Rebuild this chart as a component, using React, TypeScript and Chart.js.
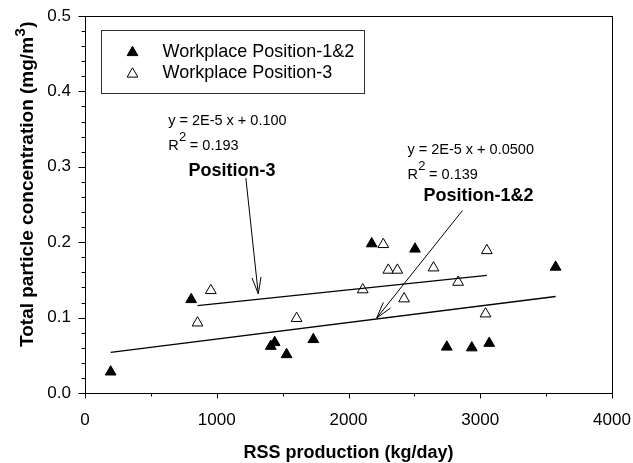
import React, { useEffect, useRef } from "react";
import { Chart, registerables } from "chart.js";

Chart.register(...registerables);

// ---- data ----
const xTickValues = [0, 1000, 2000, 3000, 4000];
const yTickValues = [0.0, 0.1, 0.2, 0.3, 0.4, 0.5];

const seriesNames = ["Workplace Position-1&2", "Workplace Position-3"];

const pos12X = [195, 806, 1410, 1440, 1530, 1733, 2176, 2505, 2746, 2936, 3068, 3572];
const pos12Y = [0.028, 0.124, 0.062, 0.067, 0.051, 0.071, 0.198, 0.191, 0.061, 0.06, 0.066, 0.167];

const pos3X = [854, 955, 1606, 2108, 2264, 2302, 2371, 2422, 2645, 2832, 3040, 3050];
const pos3Y = [0.093, 0.136, 0.099, 0.137, 0.197, 0.163, 0.163, 0.125, 0.166, 0.147, 0.105, 0.189];

const fit12X = [195, 3572];
const fit12Y = [0.054, 0.128];
const fit3X = [854, 3050];
const fit3Y = [0.116, 0.156];

const eq3 = ["y = 2E-5 x + 0.100", "= 0.193"];
const eq12 = ["y = 2E-5 x + 0.0500", "= 0.139"];
const labels = ["Position-3", "Position-1&2"];

const FONT = "'Liberation Sans', Arial, Helvetica, sans-serif";

function tri(ctx: CanvasRenderingContext2D, x: number, y: number, r: number, fill: string) {
  let rad = 0;
  ctx.beginPath();
  ctx.moveTo(x + Math.sin(rad) * r, y - Math.cos(rad) * r);
  rad += (2 * Math.PI) / 3;
  ctx.lineTo(x + Math.sin(rad) * r, y - Math.cos(rad) * r);
  rad += (2 * Math.PI) / 3;
  ctx.lineTo(x + Math.sin(rad) * r, y - Math.cos(rad) * r);
  ctx.closePath();
  ctx.fillStyle = fill;
  ctx.fill();
  ctx.lineWidth = 1;
  ctx.strokeStyle = "#000";
  ctx.stroke();
}

function arrow(ctx: CanvasRenderingContext2D, x1: number, y1: number, x2: number, y2: number) {
  ctx.beginPath();
  ctx.moveTo(x1, y1);
  ctx.lineTo(x2, y2);
  const ang = Math.atan2(y1 - y2, x1 - x2);
  const len = 17;
  const da = 0.27;
  ctx.moveTo(x2 + Math.cos(ang + da) * len, y2 + Math.sin(ang + da) * len);
  ctx.lineTo(x2, y2);
  ctx.lineTo(x2 + Math.cos(ang - da) * len, y2 + Math.sin(ang - da) * len);
  ctx.stroke();
}

function eqBlock(ctx: CanvasRenderingContext2D, x: number, y1: number, y2: number, lines: string[]) {
  ctx.textAlign = "left";
  ctx.textBaseline = "middle";
  ctx.font = `14.5px ${FONT}`;
  ctx.fillText(lines[0], x, y1);
  ctx.fillText("R", x, y2);
  const rw = ctx.measureText("R").width;
  ctx.font = `13px ${FONT}`;
  ctx.fillText("2", x + rw + 0.5, y2 - 8);
  const sw = ctx.measureText("2").width;
  ctx.font = `14.5px ${FONT}`;
  ctx.fillText(" " + lines[1], x + rw + sw, y2);
}

const overlay = {
  id: "overlay",
  afterDraw(chart: any) {
    const { ctx, chartArea: a, scales } = chart;
    const xs = scales.x;
    const ys = scales.y;
    const px = (v: number) => xs.getPixelForValue(v);
    const py = (v: number) => ys.getPixelForValue(v);
    ctx.save();
    ctx.strokeStyle = "#000";
    ctx.fillStyle = "#000";
    ctx.lineWidth = 1;
    const L = Math.round(a.left) + 0.5;
    const R = Math.round(a.right) + 0.5;
    const T = Math.round(a.top) + 0.5;
    const B = Math.round(a.bottom) + 0.5;
    ctx.strokeRect(L, T, R - L, B - T);
    // x tick marks
    for (let i = 0; i <= 8; i++) {
      const v = i * 500;
      const p = Math.round(px(v)) + 0.5;
      ctx.beginPath();
      ctx.moveTo(p, B);
      ctx.lineTo(p, B + (i % 2 === 0 ? 5 : 3));
      ctx.stroke();
    }
    // y tick marks
    for (let i = 0; i <= 25; i++) {
      const v = i * 0.02;
      const p = Math.round(py(v)) + 0.5;
      ctx.beginPath();
      ctx.moveTo(L, p);
      ctx.lineTo(L - (i % 5 === 0 ? 7 : 4), p);
      ctx.stroke();
    }

    // legend
    ctx.strokeStyle = "#333";
    ctx.strokeRect(101.5, 30.5, 263, 63);
    tri(ctx, 132.5, 52.5, 6.2, "#000");
    tri(ctx, 132.5, 74, 6.2, "#fff");
    ctx.fillStyle = "#000";
    ctx.font = `18px ${FONT}`;
    ctx.textAlign = "left";
    ctx.textBaseline = "middle";
    ctx.fillText(seriesNames[0], 162.5, 52);
    ctx.fillText(seriesNames[1], 162.5, 73.5);

    // equations
    eqBlock(ctx, px(631), py(0.3613), py(0.328), eq3);
    eqBlock(ctx, px(2447), py(0.3224), py(0.2893), eq12);

    // bold labels
    ctx.font = `bold 18px ${FONT}`;
    ctx.textAlign = "center";
    ctx.textBaseline = "middle";
    ctx.fillText(labels[0], px(1115), py(0.295));
    ctx.fillText(labels[1], px(2987), py(0.2606));

    // arrows
    ctx.strokeStyle = "#000";
    ctx.lineWidth = 1;
    arrow(ctx, px(1221), py(0.285), px(1315), py(0.1316));
    arrow(ctx, px(2865), py(0.242), px(2214), py(0.0994));

    // axis titles
    ctx.font = `bold 18px ${FONT}`;
    ctx.textAlign = "center";
    ctx.textBaseline = "alphabetic";
    ctx.fillText("RSS production (kg/day)", (a.left + a.right) / 2, 458);

    ctx.save();
    ctx.translate(33, 347);
    ctx.rotate(-Math.PI / 2);
    ctx.textAlign = "left";
    const t1 = "Total particle concentration (mg/m";
    ctx.font = `bold 19px ${FONT}`;
    ctx.fillText(t1, 0, 0);
    const w1 = ctx.measureText(t1).width;
    ctx.font = `bold 15px ${FONT}`;
    ctx.fillText("3", w1 + 0.5, -8);
    const w2 = ctx.measureText("3").width;
    ctx.font = `bold 19px ${FONT}`;
    ctx.fillText(")", w1 + w2 + 1, 0);
    ctx.restore();

    ctx.restore();
  },
};

export default function App() {
  const ref = useRef<HTMLCanvasElement | null>(null);
  useEffect(() => {
    document.body.style.margin = "0";
    const canvas = ref.current;
    if (!canvas) return;
    const toPts = (xs: number[], ys: number[]) => xs.map((x, i) => ({ x, y: ys[i] }));
    const chart = new Chart(canvas, {
      type: "scatter",
      data: {
        datasets: [
          {
            type: "line" as any,
            label: "fit12",
            data: toPts(fit12X, fit12Y),
            borderColor: "#000",
            borderWidth: 1.3,
            pointRadius: 0,
            showLine: true,
            fill: false,
          },
          {
            type: "line" as any,
            label: "fit3",
            data: toPts(fit3X, fit3Y),
            borderColor: "#000",
            borderWidth: 1.3,
            pointRadius: 0,
            showLine: true,
            fill: false,
          },
          {
            label: seriesNames[0],
            data: toPts(pos12X, pos12Y),
            pointStyle: "triangle",
            pointRadius: 6.2,
            backgroundColor: "#000",
            borderColor: "#000",
            borderWidth: 1,
          },
          {
            label: seriesNames[1],
            data: toPts(pos3X, pos3Y),
            pointStyle: "triangle",
            pointRadius: 6.2,
            backgroundColor: "#fff",
            borderColor: "#000",
            borderWidth: 1,
          },
        ],
      },
      options: {
        animation: false,
        responsive: false,
        layout: { padding: { left: 0, right: 21, top: 16, bottom: 0 } },
        plugins: { legend: { display: false }, tooltip: { enabled: false } },
        scales: {
          x: {
            type: "linear",
            min: 0,
            max: 4000,
            afterBuildTicks: (s: any) => {
              s.ticks = xTickValues.map((v) => ({ value: v }));
            },
            afterFit: (s: any) => {
              s.height = 70;
              s.paddingLeft = 0;
              s.paddingRight = 0;
            },
            grid: { display: false, drawTicks: false },
            border: { display: false },
            ticks: {
              padding: 17,
              color: "#000",
              font: { family: FONT, size: 17 },
              maxRotation: 0,
              callback: (v: any) => String(v),
            },
          },
          y: {
            type: "linear",
            min: 0,
            max: 0.5,
            afterBuildTicks: (s: any) => {
              s.ticks = yTickValues.map((v) => ({ value: v }));
            },
            afterFit: (s: any) => {
              s.width = 85;
              s.paddingTop = 0;
              s.paddingBottom = 0;
            },
            grid: { display: false, drawTicks: false },
            border: { display: false },
            ticks: {
              padding: 14,
              color: "#000",
              font: { family: FONT, size: 17 },
              callback: (v: any) => Number(v).toFixed(1),
            },
          },
        },
      },
      plugins: [overlay],
    });
    return () => chart.destroy();
  }, []);
  return (
    <div style={{ width: 633, height: 463 }}>
      <canvas ref={ref} width={633} height={463} style={{ display: "block" }} />
    </div>
  );
}
